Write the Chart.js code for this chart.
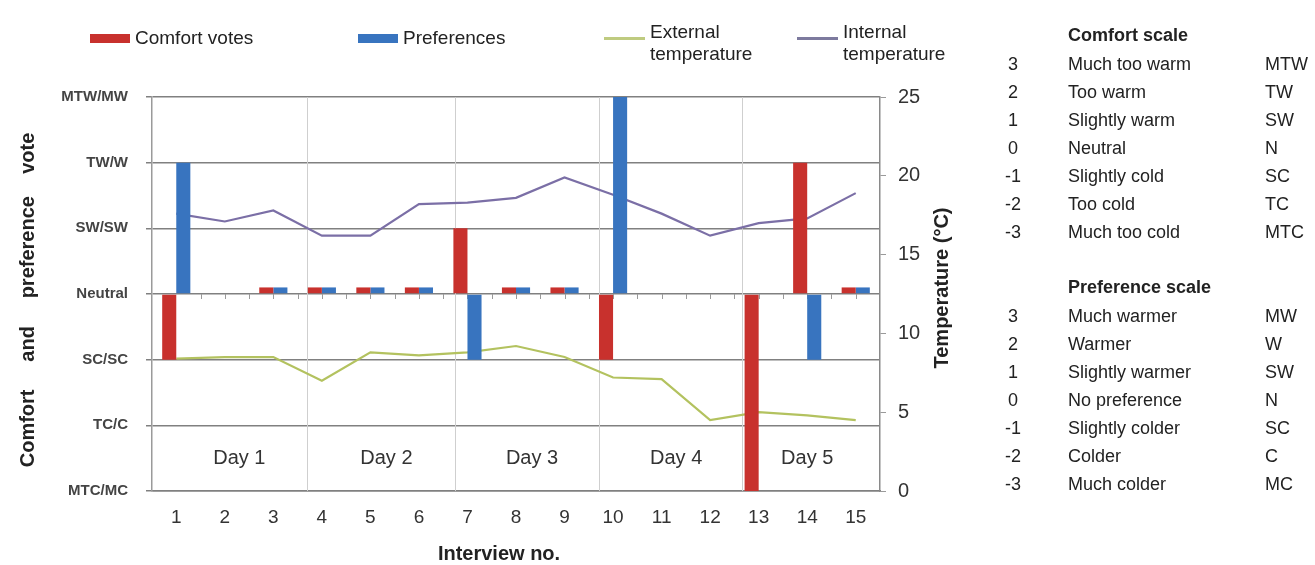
<!DOCTYPE html>
<html>
<head>
<meta charset="utf-8">
<title>Comfort and preference votes with temperatures</title>
<script src="https://cdn.jsdelivr.net/npm/chart.js@4/dist/chart.umd.min.js"></script>
<style>
  html, body { margin: 0; padding: 0; background: #fff; }
  body { width: 1315px; height: 565px; position: relative; overflow: hidden;
         font-family: "Liberation Sans", Arial, Helvetica, sans-serif; color: #222; }
  #wrap { position: absolute; left: 0; top: 0; width: 1315px; height: 565px; }
  .lg-box { position: absolute; height: 9px; width: 40px; }
  .lg-line { position: absolute; height: 3px; width: 41px; }
  .lg-text { position: absolute; font-size: 19px; line-height: 22px; color: #222; white-space: nowrap; }
  .tbl { position: absolute; font-size: 18px; line-height: 28px; color: #222; white-space: nowrap; }
  .tbl .hd { font-weight: bold; }
  .num { position: absolute; width: 30px; text-align: center; }
  .desc { position: absolute; }
  .abbr { position: absolute; }
</style>
</head>
<body>
<div id="wrap"><canvas id="chart"></canvas></div>

<!-- series key -->
<div class="lg-box" style="left:90px;top:34px;background:#c8312d"></div>
<div class="lg-text" style="left:135px;top:27px">Comfort votes</div>
<div class="lg-box" style="left:358px;top:34px;background:#3874bf"></div>
<div class="lg-text" style="left:403px;top:27px">Preferences</div>
<div class="lg-line" style="left:604px;top:37px;background:#bfcb80"></div>
<div class="lg-text" style="left:650px;top:21px">External<br>temperature</div>
<div class="lg-line" style="left:797px;top:37px;background:#7d7a9e"></div>
<div class="lg-text" style="left:843px;top:21px">Internal<br>temperature</div>

<!-- scale definitions -->
<div id="scales"></div>

<script>
// Interview numbers along the x axis
const interviews = ['1','2','3','4','5','6','7','8','9','10','11','12','13','14','15'];

// Votes on the -3..3 scale; neutral votes are plotted as a 0.1 stub so they stay visible
const comfortVotes    = [-1, null, 0.1, 0.1, 0.1, 0.1,  1, 0.1, 0.1, -1, null, null, -3,  2, 0.1];
const preferenceVotes = [ 2, null, 0.1, 0.1, 0.1, 0.1, -1, 0.1, 0.1,  3, null, null, null, -1, 0.1];

// Temperatures in °C
const externalTemp = [8.4, 8.5, 8.5, 7.0, 8.8, 8.6, 8.8, 9.2, 8.5, 7.2, 7.1, 4.5, 5.0, 4.8, 4.5];
const internalTemp = [17.6, 17.1, 17.8, 16.2, 16.2, 18.2, 18.3, 18.6, 19.9, 18.8, 17.6, 16.2, 17.0, 17.3, 18.9];

// Left axis tick labels, from -3 to 3
const voteTickLabels = ['MTC/MC', 'TC/C', 'SC/SC', 'Neutral', 'SW/SW', 'TW/W', 'MTW/MW'];

// Day blocks: separators and label centres, in interview-number units
const dayNames = ['Day 1', 'Day 2', 'Day 3', 'Day 4', 'Day 5'];
const dayCentres = [2.3, 5.33, 8.33, 11.3, 14.0];
const daySeparators = [3.7, 6.75, 9.7, 12.65];

// Axis titles
const xTitle = 'Interview no.';
const voteTitle = 'Comfort\u00A0\u00A0\u00A0\u00A0\u00A0and\u00A0\u00A0\u00A0\u00A0\u00A0preference\u00A0\u00A0\u00A0\u00A0vote';
const tempTitle = 'Temperature (°C)';

// Scale tables shown on the right
const comfortScale = [
  ['3', 'Much too warm', 'MTW'], ['2', 'Too warm', 'TW'], ['1', 'Slightly warm', 'SW'],
  ['0', 'Neutral', 'N'], ['-1', 'Slightly cold', 'SC'], ['-2', 'Too cold', 'TC'],
  ['-3', 'Much too cold', 'MTC']
];
const preferenceScale = [
  ['3', 'Much warmer', 'MW'], ['2', 'Warmer', 'W'], ['1', 'Slightly warmer', 'SW'],
  ['0', 'No preference', 'N'], ['-1', 'Slightly colder', 'SC'], ['-2', 'Colder', 'C'],
  ['-3', 'Much colder', 'MC']
];

function buildScaleTable(title, rows, top) {
  const box = document.createElement('div');
  box.className = 'tbl';
  box.style.left = '0px';
  box.style.top = top + 'px';
  let html = '<div class="desc hd" style="left:1068px;top:0">' + title + '</div>';
  rows.forEach((r, i) => {
    const y = 29 + i * 28;
    html += '<div class="num" style="left:998px;top:' + y + 'px">' + r[0] + '</div>' +
            '<div class="desc" style="left:1068px;top:' + y + 'px">' + r[1] + '</div>' +
            '<div class="abbr" style="left:1265px;top:' + y + 'px">' + r[2] + '</div>';
  });
  box.innerHTML = html;
  document.getElementById('scales').appendChild(box);
}
buildScaleTable('Comfort scale', comfortScale, 21);
buildScaleTable('Preference scale', preferenceScale, 273);

const FONT = '"Liberation Sans", Arial, Helvetica, sans-serif';

// Day separators, day names and the small marks along the neutral line
const dayPlugin = {
  id: 'days',
  beforeDatasetsDraw(chart) {
    const { ctx, chartArea: a, scales } = chart;
    const x = scales.x, yv = scales.y;
    const px = u => x.getPixelForValue(u - 1);
    ctx.save();
    ctx.strokeStyle = '#cfcfcf';
    ctx.lineWidth = 1;
    daySeparators.forEach(u => {
      const p = Math.round(px(u)) + 0.5;
      ctx.beginPath(); ctx.moveTo(p, a.top); ctx.lineTo(p, a.bottom); ctx.stroke();
    });
    // half-step marks under the neutral line
    const y0 = yv.getPixelForValue(0);
    ctx.strokeStyle = '#9a9a9a';
    for (let u = 1.5; u <= interviews.length; u += 0.5) {
      const p = Math.round(px(u)) + 0.5;
      ctx.beginPath(); ctx.moveTo(p, y0); ctx.lineTo(p, y0 + 5); ctx.stroke();
    }
    ctx.fillStyle = '#333';
    ctx.font = '20px ' + FONT;
    ctx.textAlign = 'center';
    ctx.textBaseline = 'middle';
    const yDay = (yv.getPixelForValue(-2) + yv.getPixelForValue(-3)) / 2;
    dayNames.forEach((d, i) => ctx.fillText(d, px(dayCentres[i]), yDay));
    ctx.restore();
  },
  afterDraw(chart) {
    const { ctx, chartArea: a, scales } = chart;
    const mid = (a.top + a.bottom) / 2;
    ctx.save();
    ctx.fillStyle = '#222';
    ctx.font = 'bold 20px ' + FONT;
    ctx.textAlign = 'center';
    ctx.textBaseline = 'middle';
    // x title, under the tick labels
    ctx.fillText(xTitle, scales.x.getPixelForValue(6.65), chart.height - 11);
    // left title, reading upwards
    ctx.save();
    ctx.translate(28, mid + 6);
    ctx.rotate(-Math.PI / 2);
    ctx.fillText(voteTitle, 0, 0);
    ctx.restore();
    // right title, reading upwards
    ctx.save();
    ctx.translate(scales.yT.right - 18, mid - 6);
    ctx.rotate(-Math.PI / 2);
    ctx.fillText(tempTitle, 0, 0);
    ctx.restore();
    ctx.restore();
  }
};

const ctx = document.getElementById('chart').getContext('2d');
new Chart(ctx, {
  data: {
    labels: interviews,
    datasets: [
      { type: 'bar', label: 'Comfort votes', data: comfortVotes, yAxisID: 'y',
        backgroundColor: '#c8312d', categoryPercentage: 0.58, barPercentage: 1.0, order: 0 },
      { type: 'bar', label: 'Preferences', data: preferenceVotes, yAxisID: 'y',
        backgroundColor: '#3874bf', categoryPercentage: 0.58, barPercentage: 1.0, order: 0 },
      { type: 'line', label: 'External temperature', data: externalTemp, yAxisID: 'yT',
        borderColor: '#b3c25f', borderWidth: 2.2, pointRadius: 0, tension: 0, order: 1 },
      { type: 'line', label: 'Internal temperature', data: internalTemp, yAxisID: 'yT',
        borderColor: '#7b6fa6', borderWidth: 2.2, pointRadius: 0, tension: 0, order: 1 }
    ]
  },
  options: {
    responsive: true,
    maintainAspectRatio: false,
    animation: false,
    layout: { padding: { left: 0, right: 355, top: 97, bottom: 0 } },
    plugins: { legend: { display: false }, tooltip: { enabled: false } },
    scales: {
      x: {
        type: 'category',
        offset: true,
        grid: { display: false, drawTicks: false },
        border: { display: true, color: '#808080', width: 1.5 },
        ticks: { color: '#333', font: { family: FONT, size: 19 }, padding: 15, maxRotation: 0 },
        afterFit(s) { s.height = 74; }
      },
      y: {
        position: 'left',
        min: -3, max: 3,
        ticks: { stepSize: 1, color: '#444', padding: 18,
                 font: { family: FONT, size: 15, weight: 'bold' },
                 callback: v => voteTickLabels[v + 3] },
        grid: { color: '#808080', lineWidth: 1.5, tickLength: 6, drawTicks: true },
        border: { display: true, color: '#9a9a9a', width: 1.5 },
        afterFit(s) { s.width = 152; }
      },
      yT: {
        position: 'right',
        min: 0, max: 25,
        ticks: { stepSize: 5, color: '#333', padding: 12, font: { family: FONT, size: 20 } },
        grid: { drawOnChartArea: false, color: '#9a9a9a', tickLength: 6 },
        border: { display: true, color: '#8a8a8a', width: 1.5 },
        afterFit(s) { s.width = 80; }
      }
    }
  },
  plugins: [dayPlugin]
});
</script>
</body>
</html>
